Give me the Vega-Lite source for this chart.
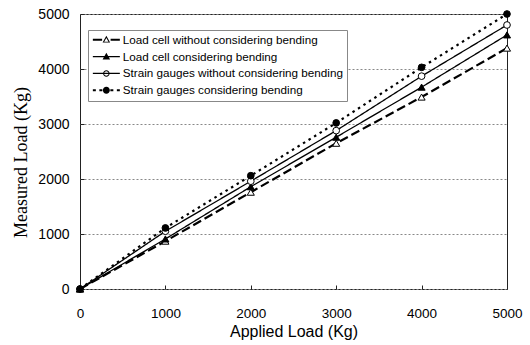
{
  "$schema": "https://vega.github.io/schema/vega-lite/v6.json",
  "width": 427,
  "height": 275,
  "autosize": {"type": "none"},
  "padding": {"left": 80, "top": 14, "right": 23, "bottom": 56},
  "background": "white",
  "config": {
    "view": {"stroke": "#222", "strokeWidth": 1},
    "font": "Liberation Sans"
  },
  "data": {
    "values": [
      {"series": "Load cell without considering bending", "applied": 0, "measured": 0},
      {"series": "Load cell without considering bending", "applied": 1000, "measured": 870},
      {"series": "Load cell without considering bending", "applied": 2000, "measured": 1760},
      {"series": "Load cell without considering bending", "applied": 3000, "measured": 2650},
      {"series": "Load cell without considering bending", "applied": 4000, "measured": 3490},
      {"series": "Load cell without considering bending", "applied": 5000, "measured": 4380},
      {"series": "Load cell considering bending", "applied": 0, "measured": 0},
      {"series": "Load cell considering bending", "applied": 1000, "measured": 910},
      {"series": "Load cell considering bending", "applied": 2000, "measured": 1860},
      {"series": "Load cell considering bending", "applied": 3000, "measured": 2760},
      {"series": "Load cell considering bending", "applied": 4000, "measured": 3670},
      {"series": "Load cell considering bending", "applied": 5000, "measured": 4620},
      {"series": "Strain gauges without considering bending", "applied": 0, "measured": 0},
      {"series": "Strain gauges without considering bending", "applied": 1000, "measured": 1050},
      {"series": "Strain gauges without considering bending", "applied": 2000, "measured": 1960},
      {"series": "Strain gauges without considering bending", "applied": 3000, "measured": 2880},
      {"series": "Strain gauges without considering bending", "applied": 4000, "measured": 3870},
      {"series": "Strain gauges without considering bending", "applied": 5000, "measured": 4800},
      {"series": "Strain gauges considering bending", "applied": 0, "measured": 0},
      {"series": "Strain gauges considering bending", "applied": 1000, "measured": 1110},
      {"series": "Strain gauges considering bending", "applied": 2000, "measured": 2060},
      {"series": "Strain gauges considering bending", "applied": 3000, "measured": 3020},
      {"series": "Strain gauges considering bending", "applied": 4000, "measured": 4030},
      {"series": "Strain gauges considering bending", "applied": 5000, "measured": 5000}
    ]
  },
  "encoding": {
    "x": {
      "field": "applied",
      "type": "quantitative",
      "scale": {"domain": [0, 5000], "nice": false},
      "axis": {
        "title": "Applied Load (Kg)",
        "values": [0, 1000, 2000, 3000, 4000, 5000],
        "format": "d",
        "grid": false,
        "domain": false,
        "tickSize": -4,
        "tickColor": "#222",
        "labelFlush": false,
        "labelFont": "Liberation Sans",
        "labelFontSize": 13.5,
        "labelColor": "black",
        "labelPadding": 21,
        "titleFont": "Liberation Sans",
        "titleFontSize": 16,
        "titleFontWeight": "normal",
        "titleColor": "black",
        "titlePadding": 4
      }
    },
    "y": {
      "field": "measured",
      "type": "quantitative",
      "scale": {"domain": [0, 5000], "nice": false},
      "axis": {
        "title": "Measured Load (Kg)",
        "values": [0, 1000, 2000, 3000, 4000, 5000],
        "format": "d",
        "grid": true,
        "gridDash": [2, 2],
        "gridColor": "#888",
        "gridWidth": 1,
        "domain": false,
        "tickSize": -4,
        "tickColor": "#222",
        "labelFont": "Liberation Sans",
        "labelFontSize": 14,
        "labelColor": "black",
        "labelPadding": 15,
        "titleFont": "Liberation Serif",
        "titleFontSize": 18,
        "titleFontWeight": "normal",
        "titleColor": "black",
        "titlePadding": 7,
        "titleY": 148
      }
    }
  },
  "layer": [
    {
      "mark": {"type": "line", "color": "black"},
      "encoding": {
        "strokeDash": {
          "field": "series",
          "type": "nominal",
          "scale": {"range": [[1, 0], [9, 4], [2.5, 4], [1, 0]]},
          "legend": null
        },
        "strokeWidth": {
          "condition": {"test": "datum.series === 'Load cell without considering bending' || datum.series === 'Strain gauges considering bending'", "value": 2.2},
          "value": 1.3
        }
      }
    },
    {
      "transform": [{"filter": {"field": "series", "oneOf": ["Load cell without considering bending", "Load cell considering bending"]}}],
      "mark": {"type": "point", "shape": "triangle-up", "filled": true, "stroke": "black", "strokeWidth": 1, "size": 50, "opacity": 1},
      "encoding": {
        "fill": {
          "condition": {"test": "indexof(datum.series, 'without') >= 0", "value": "white"},
          "value": "black"
        }
      }
    },
    {
      "transform": [{"filter": {"field": "series", "oneOf": ["Strain gauges without considering bending", "Strain gauges considering bending"]}}],
      "mark": {"type": "point", "shape": "circle", "filled": true, "stroke": "black", "strokeWidth": 1, "size": 45, "opacity": 1},
      "encoding": {
        "fill": {
          "condition": {"test": "indexof(datum.series, 'without') >= 0", "value": "white"},
          "value": "black"
        }
      }
    },
    {
      "mark": {"type": "point", "filled": true, "color": "black", "strokeWidth": 0, "size": 0, "opacity": 1},
      "encoding": {
        "shape": {
          "field": "series",
          "type": "nominal",
          "title": null,
          "scale": {
            "domain": ["Load cell without considering bending", "Load cell considering bending", "Strain gauges without considering bending", "Strain gauges considering bending"],
            "range": [
              "M-1,-0.2H0.85V0.2H-1Z M2.55,-0.2H4.4V0.2H2.55Z M1.7,-0.8L2.45,0.55L0.95,0.55Z M1.7,-0.37L1.27,0.37L2.13,0.37Z",
              "M-1,-0.14H4.4V0.14H-1Z M1.7,-0.8L2.45,0.55L0.95,0.55Z",
              "M-1,-0.12H4.4V0.12H-1Z M2.35,0A0.65,0.65 0 1,1 1.05,0A0.65,0.65 0 1,1 2.35,0Z M2.15,0A0.45,0.45 0 1,0 1.25,0A0.45,0.45 0 1,0 2.15,0Z",
              "M-1,-0.2H-0.4V0.2H-1Z M0.3,-0.2H0.9V0.2H0.3Z M2.5,-0.2H3.1V0.2H2.5Z M3.8,-0.2H4.4V0.2H3.8Z M2.4,0A0.7,0.7 0 1,1 1.0,0A0.7,0.7 0 1,1 2.4,0Z"
            ]
          },
          "legend": {
            "title": null,
            "orient": "none",
            "legendX": 8,
            "legendY": 16,
            "padding": 4,
            "strokeColor": "#888",
            "fillColor": "white",
            "symbolSize": 100,
            "symbolFillColor": "black",
            "symbolStrokeWidth": 0,
            "labelFont": "Liberation Sans",
            "labelFontSize": 11.7,
            "labelColor": "black",
            "labelOffset": 19,
            "labelLimit": 400,
            "rowPadding": 3.8,
            "encode": {
              "legend": {"update": {"stroke": {"value": "#888"}, "strokeWidth": {"value": 1}, "strokeDash": {"value": [2, 2]}}},
              "symbols": {"update": {"fill": {"value": "black"}, "fillOpacity": {"value": 1}, "opacity": {"value": 1}}}
            }
          }
        }
      }
    }
  ]
}
